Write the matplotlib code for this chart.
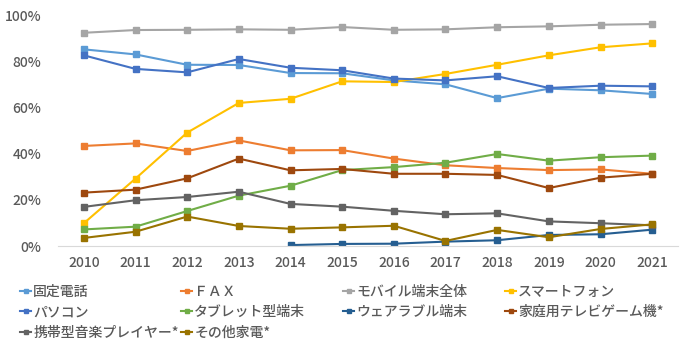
import matplotlib
matplotlib.use("Agg")
import matplotlib.pyplot as plt
from matplotlib.ticker import FuncFormatter
import numpy as np

plt.rcParams['font.family'] = ['Noto Sans CJK JP', 'DejaVu Sans']
plt.rcParams['font.weight'] = 'medium'

years = ['2010', '2011', '2012', '2013', '2014', '2015', '2016', '2017', '2018', '2019', '2020', '2021']

fixed_phone = [85.5, 83.3, 78.8, 78.7, 75.2, 75.1, 72.0, 70.3, 64.3, 68.4, 67.7, 66.1]
fax = [43.5, 44.6, 41.3, 45.9, 41.6, 41.7, 38.0, 35.1, 33.9, 33.0, 33.3, 31.4]
mobile_all = [92.7, 93.9, 94.0, 94.2, 94.0, 95.2, 94.0, 94.2, 95.1, 95.5, 96.2, 96.5]
smartphone = [9.9, 29.3, 49.3, 62.2, 64.0, 71.6, 71.3, 74.8, 78.8, 82.9, 86.4, 88.1]
pc = [82.9, 77.0, 75.5, 81.3, 77.5, 76.4, 72.8, 72.0, 73.8, 68.7, 69.7, 69.4]
tablet = [7.2, 8.4, 15.2, 21.9, 26.2, 33.0, 34.3, 36.2, 40.0, 37.1, 38.6, 39.3]
wearable = [None, None, None, None, 0.4, 0.9, 1.0, 1.9, 2.5, 4.8, 5.1, 7.1]
game = [23.2, 24.5, 29.4, 38.0, 32.9, 33.5, 31.4, 31.4, 30.9, 25.2, 29.7, 31.4]
music = [17.0, 19.9, 21.3, 23.6, 18.3, 17.1, 15.3, 13.8, 14.2, 10.7, 9.9, 9.0]
other = [3.5, 6.2, 12.8, 8.7, 7.5, 8.1, 8.8, 2.2, 7.0, 3.8, 7.4, 9.4]

series_names = ['固定電話', 'ＦＡＸ', 'モバイル端末全体', 'スマートフォン', 'パソコン',
                'タブレット型端末', 'ウェアラブル端末', '家庭用テレビゲーム機*',
                '携帯型音楽プレイヤー*', 'その他家電*']
series_values = [fixed_phone, fax, mobile_all, smartphone, pc, tablet, wearable, game, music, other]
colors = ['#5B9BD5', '#ED7D31', '#A5A5A5', '#FFC000', '#4472C4', '#70AD47',
          '#255E91', '#9E480E', '#636363', '#997300']

fig = plt.figure(figsize=(7.0, 3.55), dpi=100)
ax = fig.add_axes([58/700, 1-246/355, 620/700, 230/355])

x = np.arange(len(years))
handles = []
for name, vals, c in zip(series_names, series_values, colors):
    v = np.array([np.nan if a is None else a for a in vals], dtype=float)
    h, = ax.plot(x, v, color=c, lw=1.5, marker='s', markersize=4.5, label=name)
    handles.append(h)

ax.set_xlim(-0.5, len(years) - 0.5)
ax.set_ylim(0, 100)
ax.set_yticks([0, 20, 40, 60, 80, 100])
ax.yaxis.set_major_formatter(FuncFormatter(lambda v, p: f'{int(v)}%'))
ax.set_xticks(x)
ax.set_xticklabels(years)
for s in ['top', 'right', 'left']:
    ax.spines[s].set_visible(False)
ax.spines['bottom'].set_color('#D9D9D9')
ax.tick_params(axis='both', length=0, labelsize=10, labelcolor='#595959')
ax.tick_params(axis='y', pad=12)
ax.tick_params(axis='x', pad=7)

cols = [[0, 4, 8], [1, 5, 9], [2, 6], [3, 7]]
col_x = [20, 181, 343, 505]
for idx, cx in zip(cols, col_x):
    leg = fig.legend([handles[i] for i in idx], [series_names[i] for i in idx],
                     loc='upper left', bbox_to_anchor=(cx/700, 1-285/355),
                     frameon=False, fontsize=10, handlelength=0.8,
                     handletextpad=0.15, labelspacing=0.45, borderaxespad=0,
                     borderpad=0, labelcolor='#595959')
    for h in leg.legend_handles:
        h.set_markersize(3.5)

fig.savefig('out.png', dpi=100)
